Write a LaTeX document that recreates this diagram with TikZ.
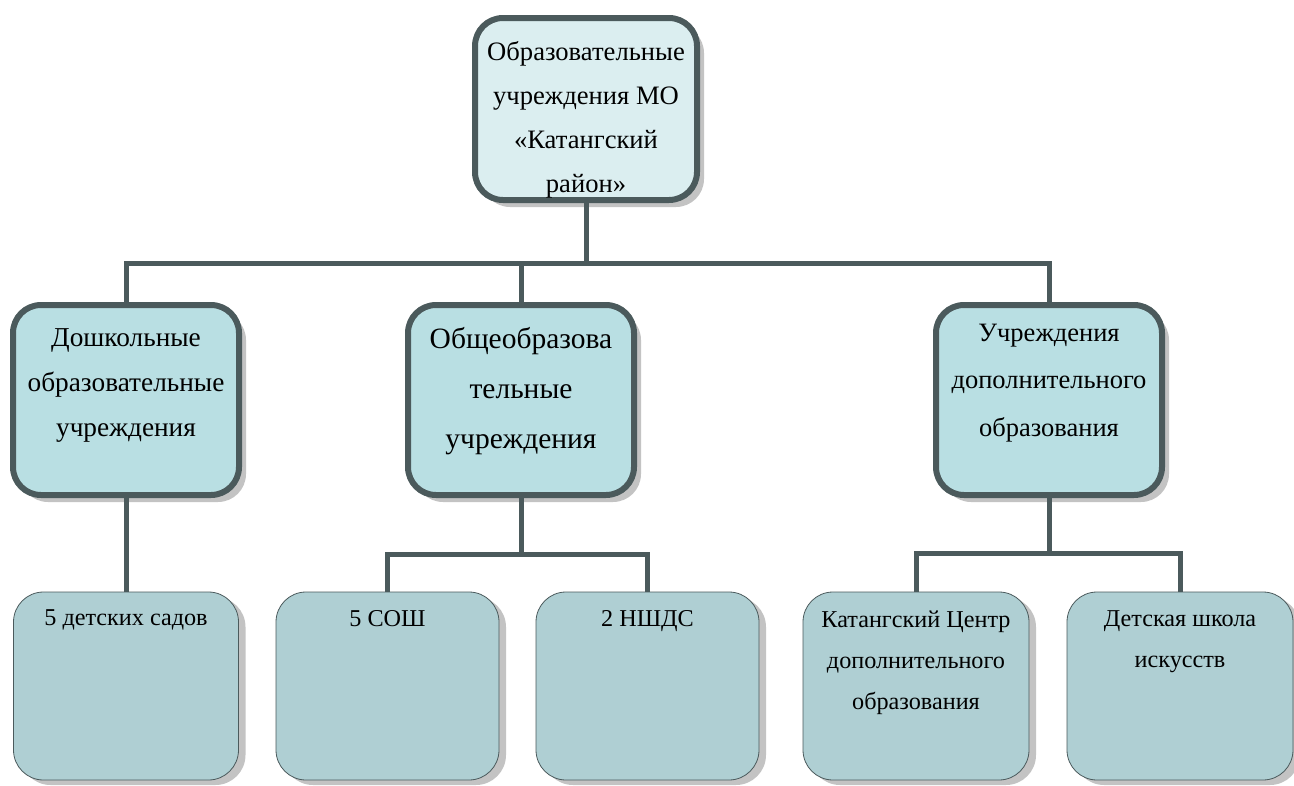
\documentclass[tikz,border=0pt]{standalone}
\usepackage{fontspec}
\setmainfont{Liberation Serif}
\usepackage{tikz}
\usetikzlibrary{positioning, shadows}
\definecolor{framegray}{RGB}{75, 90, 92}
\definecolor{topfill}{RGB}{219, 238, 240}
\definecolor{midfill}{RGB}{185, 223, 227}
\definecolor{lowfill}{RGB}{175, 207, 211}
\definecolor{shadegray}{RGB}{195, 195, 195}

% text block glued to the top of a box
\newcommand{\boxtext}[4]{\parbox[c][#2][t]{#1}{\centering\vspace*{#3}#4}}

\tikzset{
    bigbox/.style={draw=framegray, line width=6pt, rounded corners=28pt, inner sep=0pt,
        drop shadow={shadow xshift=7pt, shadow yshift=-7pt, fill=shadegray, opacity=1}},
    headbox/.style={bigbox, fill=topfill, font=\fontsize{26.6}{44}\selectfont},
    groupbox/.style={bigbox, fill=midfill, font=\fontsize{26.5}{47.5}\selectfont},
    unitbox/.style={draw=framegray, line width=0.8pt, rounded corners=30pt, inner sep=0pt,
        fill=lowfill, font=\fontsize{24.2}{41}\selectfont,
        drop shadow={shadow xshift=7pt, shadow yshift=-5pt, fill=shadegray, opacity=1}},
    link/.style={draw=framegray, line width=5pt}
}

\begin{document}
\begin{tikzpicture}[x=1pt, y=-1pt]
    \useasboundingbox (0,0) rectangle (1294,785);

    \node[headbox] (top) at (586,109)
        {\boxtext{222pt}{182pt}{23pt}{Образовательные\\учреждения МО\\«Катангский\\район»}};

    \node[groupbox, font=\fontsize{27.3}{45}\selectfont] (pre) at (126,400)
        {\boxtext{226pt}{190pt}{24pt}{Дошкольные\\образовательные\\учреждения}};
    \node[groupbox, font=\fontsize{29.5}{50}\selectfont] (general) at (521,400)
        {\boxtext{226pt}{190pt}{22pt}{Общеобразова\\тельные\\учреждения}};
    \node[groupbox] (extra) at (1049,400)
        {\boxtext{226pt}{190pt}{19pt}{Учреждения\\дополнительного\\образования}};

    \node[unitbox] (kinder) at (126,686)
        {\boxtext{225pt}{188pt}{18pt}{5 детских садов}};
    \node[unitbox] (sosh) at (387.5,686)
        {\boxtext{223pt}{188pt}{18pt}{5 СОШ}};
    \node[unitbox] (nshds) at (647.5,686)
        {\boxtext{223pt}{188pt}{18pt}{2 НШДС}};
    \node[unitbox] (center) at (916,686)
        {\boxtext{226pt}{188pt}{19pt}{Катангский Центр\\дополнительного\\образования}};
    \node[unitbox] (arts) at (1180,686)
        {\boxtext{226pt}{188pt}{19pt}{Детская школа\\искусств}};

    % buses
    \coordinate (midbus) at (0,263);
    \coordinate (genbus) at (0,554);
    \coordinate (extbus) at (0,553);

    \draw[link] (top.south) -- (top.south |- midbus);
    \draw[link] (pre.north) |- (extra.north |- midbus) -- (extra.north);
    \draw[link] (general.north) -- (general.north |- midbus);
    \draw[link] (pre.south) -- (kinder.north);

    \draw[link] (general.south) -- (general.south |- genbus);
    \draw[link] (sosh.north) |- (nshds.north |- genbus) -- (nshds.north);
    \draw[link] (extra.south) -- (extra.south |- extbus);
    \draw[link] (center.north) |- (arts.north |- extbus) -- (arts.north);
\end{tikzpicture}
\end{document}
